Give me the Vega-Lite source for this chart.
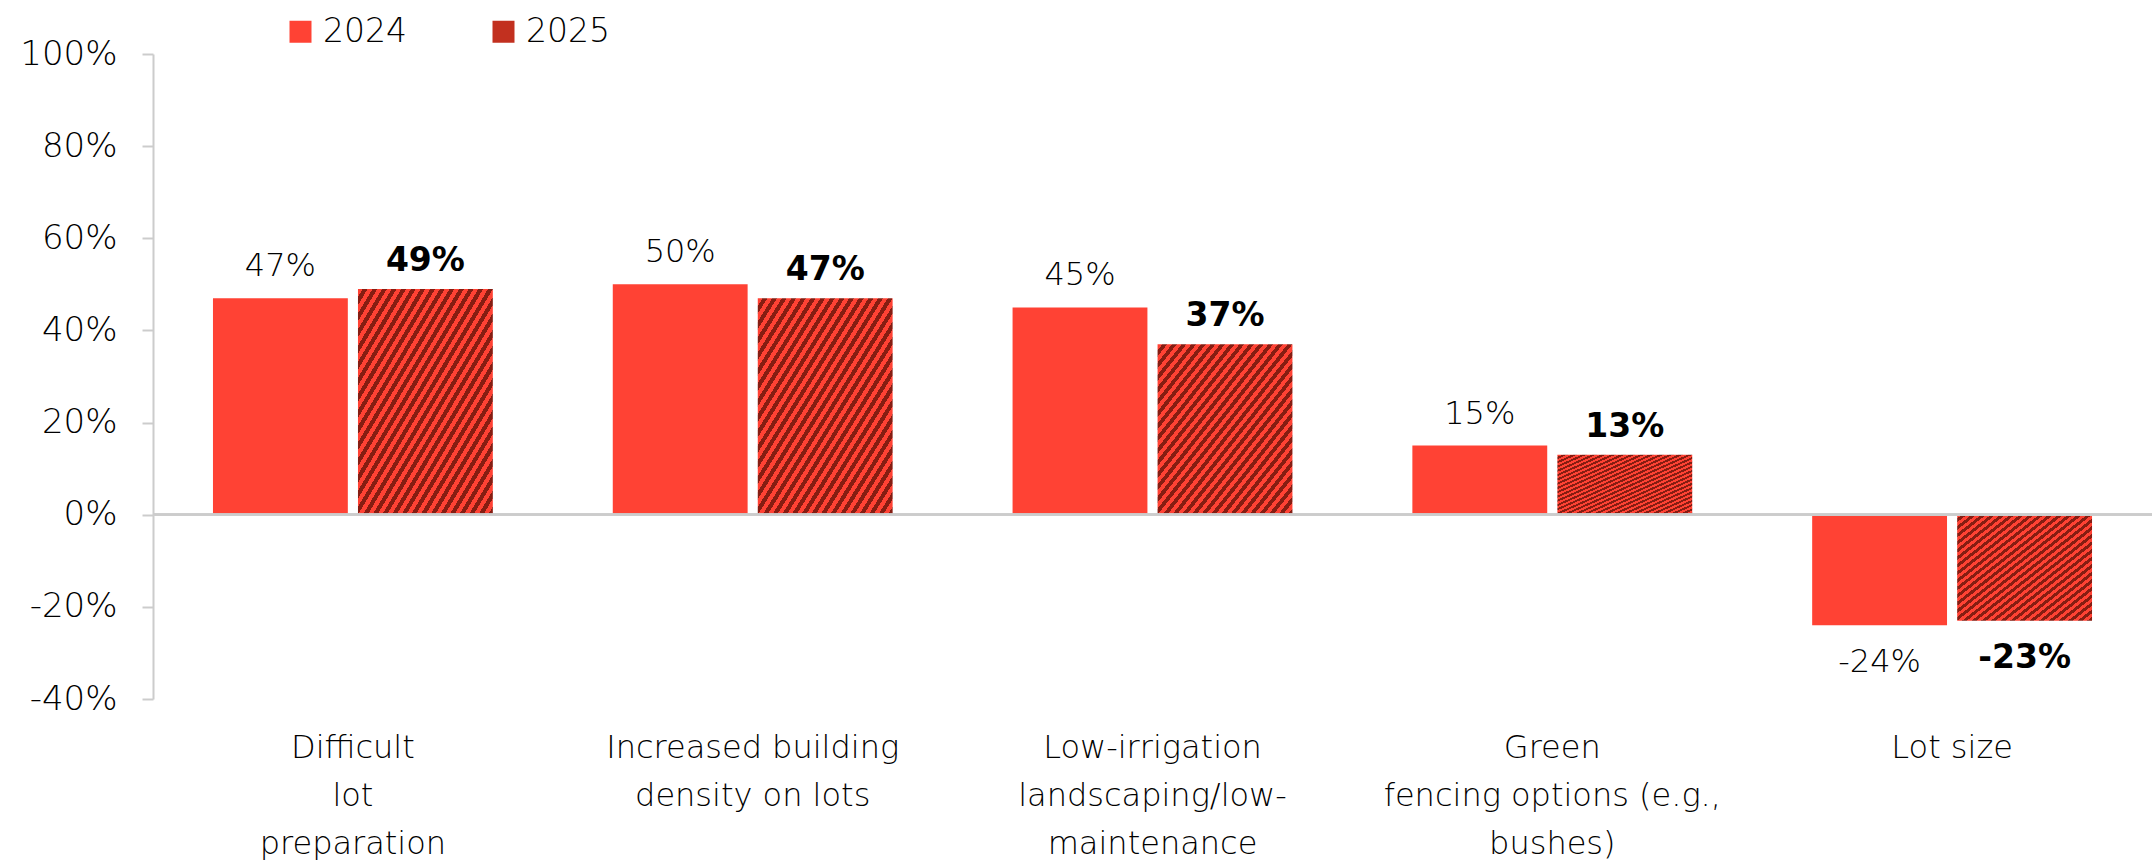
{
  "$schema": "https://vega.github.io/schema/vega-lite/v6.json",
  "width": 1999,
  "height": 645,
  "autosize": {"type": "none"},
  "padding": {"left": 153, "top": 54, "right": 0, "bottom": 165},
  "config": {
    "view": {"stroke": null},
    "font": "DejaVu Sans",
    "axis": {"grid": false},
    "locale": {"number": {"decimal": ".", "thousands": ",", "grouping": [3], "currency": ["$", ""], "minus": "-"}}
  },
  "data": {
    "values": [
      {"category": "Difficult|lot|preparation", "year": "2024", "value": 0.47},
      {"category": "Difficult|lot|preparation", "year": "2025", "value": 0.49},
      {"category": "Increased building|density on lots", "year": "2024", "value": 0.50},
      {"category": "Increased building|density on lots", "year": "2025", "value": 0.47},
      {"category": "Low-irrigation|landscaping/low-|maintenance", "year": "2024", "value": 0.45},
      {"category": "Low-irrigation|landscaping/low-|maintenance", "year": "2025", "value": 0.37},
      {"category": "Green|fencing options (e.g.,|bushes)", "year": "2024", "value": 0.15},
      {"category": "Green|fencing options (e.g.,|bushes)", "year": "2025", "value": 0.13},
      {"category": "Lot size", "year": "2024", "value": -0.24},
      {"category": "Lot size", "year": "2025", "value": -0.23}
    ]
  },
  "encoding": {
    "x": {
      "field": "category",
      "type": "nominal",
      "sort": null,
      "scale": {"paddingInner": 0.3, "paddingOuter": 0.15},
      "axis": {
        "title": null,
        "orient": "bottom",
        "domain": false,
        "ticks": false,
        "labelAngle": 0,
        "labelExpr": "split(datum.label, '|')",
        "labelFont": "DejaVu Sans",
        "labelFontSize": 32,
        "labelFontWeight": 200,
        "labelColor": "#000000",
        "labelBaseline": "top",
        "labelLineHeight": 48,
        "labelPadding": 33,
        "labelLimit": 400
      }
    },
    "xOffset": {
      "field": "year",
      "type": "nominal",
      "scale": {"paddingInner": 0.07}
    },
    "y": {
      "field": "value",
      "type": "quantitative",
      "scale": {"domain": [-0.4, 1.0], "nice": false, "zero": false},
      "axis": {
        "title": null,
        "values": [-0.4, -0.2, 0, 0.2, 0.4, 0.6, 0.8, 1.0],
        "format": ".0%",
        "domainColor": "#cccccc",
        "domainWidth": 2,
        "tickColor": "#cccccc",
        "tickWidth": 2,
        "tickSize": 11,
        "labelFont": "DejaVu Sans",
        "labelFontSize": 34,
        "labelFontWeight": 200,
        "labelColor": "#000000",
        "labelPadding": 25
      }
    }
  },
  "layer": [
    {
      "mark": {"type": "bar"},
      "encoding": {
        "color": {
          "field": "year",
          "type": "nominal",
          "scale": {"domain": ["2024", "2025"], "range": ["#ff4234", "#c2301f"]},
          "condition": {
            "test": "datum.year === '2025'",
            "value": {
              "gradient": "linear", "x1": 0, "y1": 0, "x2": 1, "y2": 1,
              "stops": [
                {"offset": 0, "color": "#ff4234"},
                {"offset": 0.0179, "color": "#ff4234"}, {"offset": 0.0179, "color": "#861d12"},
                {"offset": 0.0357, "color": "#861d12"}, {"offset": 0.0357, "color": "#ff4234"},
                {"offset": 0.0536, "color": "#ff4234"}, {"offset": 0.0536, "color": "#861d12"},
                {"offset": 0.0714, "color": "#861d12"}, {"offset": 0.0714, "color": "#ff4234"},
                {"offset": 0.0893, "color": "#ff4234"}, {"offset": 0.0893, "color": "#861d12"},
                {"offset": 0.1071, "color": "#861d12"}, {"offset": 0.1071, "color": "#ff4234"},
                {"offset": 0.125, "color": "#ff4234"}, {"offset": 0.125, "color": "#861d12"},
                {"offset": 0.1429, "color": "#861d12"}, {"offset": 0.1429, "color": "#ff4234"},
                {"offset": 0.1607, "color": "#ff4234"}, {"offset": 0.1607, "color": "#861d12"},
                {"offset": 0.1786, "color": "#861d12"}, {"offset": 0.1786, "color": "#ff4234"},
                {"offset": 0.1964, "color": "#ff4234"}, {"offset": 0.1964, "color": "#861d12"},
                {"offset": 0.2143, "color": "#861d12"}, {"offset": 0.2143, "color": "#ff4234"},
                {"offset": 0.2321, "color": "#ff4234"}, {"offset": 0.2321, "color": "#861d12"},
                {"offset": 0.25, "color": "#861d12"}, {"offset": 0.25, "color": "#ff4234"},
                {"offset": 0.2679, "color": "#ff4234"}, {"offset": 0.2679, "color": "#861d12"},
                {"offset": 0.2857, "color": "#861d12"}, {"offset": 0.2857, "color": "#ff4234"},
                {"offset": 0.3036, "color": "#ff4234"}, {"offset": 0.3036, "color": "#861d12"},
                {"offset": 0.3214, "color": "#861d12"}, {"offset": 0.3214, "color": "#ff4234"},
                {"offset": 0.3393, "color": "#ff4234"}, {"offset": 0.3393, "color": "#861d12"},
                {"offset": 0.3571, "color": "#861d12"}, {"offset": 0.3571, "color": "#ff4234"},
                {"offset": 0.375, "color": "#ff4234"}, {"offset": 0.375, "color": "#861d12"},
                {"offset": 0.3929, "color": "#861d12"}, {"offset": 0.3929, "color": "#ff4234"},
                {"offset": 0.4107, "color": "#ff4234"}, {"offset": 0.4107, "color": "#861d12"},
                {"offset": 0.4286, "color": "#861d12"}, {"offset": 0.4286, "color": "#ff4234"},
                {"offset": 0.4464, "color": "#ff4234"}, {"offset": 0.4464, "color": "#861d12"},
                {"offset": 0.4643, "color": "#861d12"}, {"offset": 0.4643, "color": "#ff4234"},
                {"offset": 0.4821, "color": "#ff4234"}, {"offset": 0.4821, "color": "#861d12"},
                {"offset": 0.5, "color": "#861d12"}, {"offset": 0.5, "color": "#ff4234"},
                {"offset": 0.5179, "color": "#ff4234"}, {"offset": 0.5179, "color": "#861d12"},
                {"offset": 0.5357, "color": "#861d12"}, {"offset": 0.5357, "color": "#ff4234"},
                {"offset": 0.5536, "color": "#ff4234"}, {"offset": 0.5536, "color": "#861d12"},
                {"offset": 0.5714, "color": "#861d12"}, {"offset": 0.5714, "color": "#ff4234"},
                {"offset": 0.5893, "color": "#ff4234"}, {"offset": 0.5893, "color": "#861d12"},
                {"offset": 0.6071, "color": "#861d12"}, {"offset": 0.6071, "color": "#ff4234"},
                {"offset": 0.625, "color": "#ff4234"}, {"offset": 0.625, "color": "#861d12"},
                {"offset": 0.6429, "color": "#861d12"}, {"offset": 0.6429, "color": "#ff4234"},
                {"offset": 0.6607, "color": "#ff4234"}, {"offset": 0.6607, "color": "#861d12"},
                {"offset": 0.6786, "color": "#861d12"}, {"offset": 0.6786, "color": "#ff4234"},
                {"offset": 0.6964, "color": "#ff4234"}, {"offset": 0.6964, "color": "#861d12"},
                {"offset": 0.7143, "color": "#861d12"}, {"offset": 0.7143, "color": "#ff4234"},
                {"offset": 0.7321, "color": "#ff4234"}, {"offset": 0.7321, "color": "#861d12"},
                {"offset": 0.75, "color": "#861d12"}, {"offset": 0.75, "color": "#ff4234"},
                {"offset": 0.7679, "color": "#ff4234"}, {"offset": 0.7679, "color": "#861d12"},
                {"offset": 0.7857, "color": "#861d12"}, {"offset": 0.7857, "color": "#ff4234"},
                {"offset": 0.8036, "color": "#ff4234"}, {"offset": 0.8036, "color": "#861d12"},
                {"offset": 0.8214, "color": "#861d12"}, {"offset": 0.8214, "color": "#ff4234"},
                {"offset": 0.8393, "color": "#ff4234"}, {"offset": 0.8393, "color": "#861d12"},
                {"offset": 0.8571, "color": "#861d12"}, {"offset": 0.8571, "color": "#ff4234"},
                {"offset": 0.875, "color": "#ff4234"}, {"offset": 0.875, "color": "#861d12"},
                {"offset": 0.8929, "color": "#861d12"}, {"offset": 0.8929, "color": "#ff4234"},
                {"offset": 0.9107, "color": "#ff4234"}, {"offset": 0.9107, "color": "#861d12"},
                {"offset": 0.9286, "color": "#861d12"}, {"offset": 0.9286, "color": "#ff4234"},
                {"offset": 0.9464, "color": "#ff4234"}, {"offset": 0.9464, "color": "#861d12"},
                {"offset": 0.9643, "color": "#861d12"}, {"offset": 0.9643, "color": "#ff4234"},
                {"offset": 0.9821, "color": "#ff4234"}, {"offset": 0.9821, "color": "#861d12"},
                {"offset": 1, "color": "#861d12"}
              ]
            }
          },
          "legend": {
            "title": null,
            "orient": "none",
            "legendX": 131,
            "legendY": -39,
            "direction": "horizontal",
            "padding": 0,
            "symbolType": "square",
            "symbolSize": 484,
            "symbolStrokeWidth": 0,
            "labelFont": "DejaVu Sans",
            "labelFontSize": 33,
            "labelFontWeight": 200,
            "labelColor": "#000000",
            "labelOffset": 6,
            "columnPadding": 80
          }
        }
      }
    },
    {
      "mark": {"type": "rule", "color": "#cccccc", "strokeWidth": 2},
      "encoding": {
        "y": {"datum": 0},
        "x": null,
        "xOffset": null
      }
    },
    {
      "transform": [{"filter": "datum.year === '2024' && datum.value >= 0"}],
      "mark": {"type": "text", "font": "DejaVu Sans", "fontSize": 32, "fontWeight": 200, "color": "#000000", "baseline": "middle", "dy": -32},
      "encoding": {
        "text": {"field": "value", "type": "quantitative", "format": ".0%"}
      }
    },
    {
      "transform": [{"filter": "datum.year === '2024' && datum.value < 0"}],
      "mark": {"type": "text", "font": "DejaVu Sans", "fontSize": 32, "fontWeight": 200, "color": "#000000", "baseline": "middle", "dy": 37},
      "encoding": {
        "text": {"field": "value", "type": "quantitative", "format": ".0%"}
      }
    },
    {
      "transform": [{"filter": "datum.year === '2025' && datum.value >= 0"}],
      "mark": {"type": "text", "font": "DejaVu Sans", "fontSize": 33, "fontWeight": "bold", "color": "#000000", "baseline": "middle", "dy": -28},
      "encoding": {
        "text": {"field": "value", "type": "quantitative", "format": ".0%"}
      }
    },
    {
      "transform": [{"filter": "datum.year === '2025' && datum.value < 0"}],
      "mark": {"type": "text", "font": "DejaVu Sans", "fontSize": 33, "fontWeight": "bold", "color": "#000000", "baseline": "middle", "dy": 37},
      "encoding": {
        "text": {"field": "value", "type": "quantitative", "format": ".0%"}
      }
    }
  ]
}
